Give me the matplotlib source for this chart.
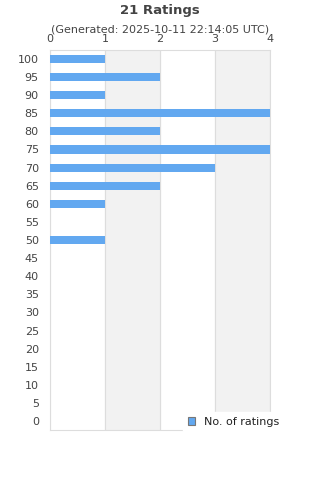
import matplotlib.pyplot as plt
from matplotlib.patches import Patch

ratings = [100, 95, 90, 85, 80, 75, 70, 65, 60, 55, 50, 45, 40, 35, 30, 25, 20, 15, 10, 5, 0]
counts = [1, 2, 1, 4, 2, 4, 3, 2, 1, 0, 1, 0, 0, 0, 0, 0, 0, 0, 0, 0, 0]
xticks = [0, 1, 2, 3, 4]

txt = '#444444'
bar_col = '#62a8f0'

fig = plt.figure(figsize=(3.2, 4.8), dpi=100)
ax = fig.add_axes([0.156, 0.104, 0.688, 0.792])

pos = list(range(len(ratings)))
ax.barh(pos, counts, height=0.45, color=bar_col, zorder=3)

# alternating bands
for i in range(len(xticks) - 1):
    if i % 2 == 1:
        ax.axvspan(xticks[i], xticks[i + 1], color='#f2f2f2', zorder=0)
for x in xticks:
    ax.axvline(x, color='#dddddd', lw=0.8, zorder=1)

ax.set_xlim(0, 4)
ax.set_ylim(len(ratings) - 0.5, -0.5)
ax.set_yticks(pos)
ax.set_yticklabels([str(r) for r in ratings])
ax.set_xticks(xticks)
ax.xaxis.tick_top()
ax.tick_params(axis='both', length=0, labelsize=8, colors=txt)
ax.tick_params(axis='x', pad=4.5)
ax.tick_params(axis='y', pad=8)
for s in ['top', 'right', 'left', 'bottom']:
    ax.spines[s].set_color('#dddddd')
    ax.spines[s].set_linewidth(0.8)

fig.text(0.5, 0.978, '21 Ratings', ha='center', va='center', fontsize=9.5,
         fontweight='bold', color=txt)
fig.text(0.5, 0.938, '(Generated: 2025-10-11 22:14:05 UTC)', ha='center',
         va='center', fontsize=8, color=txt)

leg = fig.legend(handles=[Patch(facecolor=bar_col, edgecolor='#777777', lw=0.8)],
                 labels=['No. of ratings'], loc='center left',
                 bbox_to_anchor=(0.555, 0.121), frameon=True, fontsize=8,
                 handlelength=0.7, handleheight=0.7, borderpad=0.4,
                 handletextpad=0.8, fancybox=False)
leg.get_frame().set_edgecolor('white')
leg.get_frame().set_alpha(1)
leg.set_zorder(5)
for t in leg.get_texts():
    t.set_color('#222222')

fig.savefig('out.png', dpi=100)
